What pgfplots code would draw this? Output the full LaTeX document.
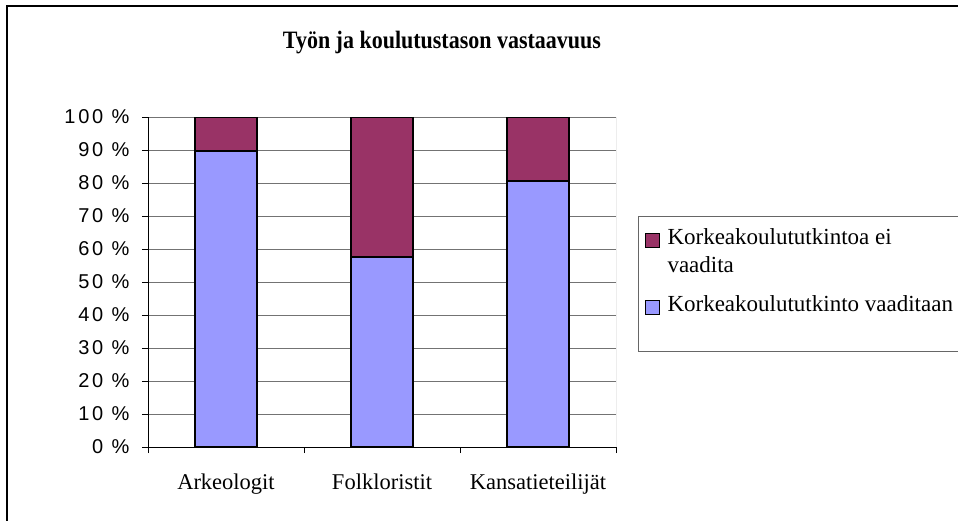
\documentclass[border=0pt]{standalone}
\usepackage{fontspec}
\setmainfont{Liberation Serif}
\newfontfamily\arial[LetterSpace=14]{Liberation Sans}
\usepackage{pgfplots}
\pgfplotsset{compat=1.18}
\definecolor{cRed}{HTML}{993366}
\definecolor{cBlue}{HTML}{9999FF}
\begin{document}
\begin{tikzpicture}
\useasboundingbox (0pt,0pt) rectangle (958pt,520pt);
\clip (0pt,0pt) rectangle (958pt,520pt);
\fill[white] (0pt,0pt) rectangle (958pt,520pt);
\draw[line width=2pt] (6.5pt,-10pt) -- (6.5pt,513.5pt) -- (980pt,513.5pt);
\node[font=\fontsize{25}{29}\selectfont\bfseries, xscale=0.88] at (442pt,477pt) {Työn ja koulutustason vastaavuus};
\begin{axis}[
  at={(148pt,73pt)}, anchor=south west,
  scale only axis, width=468pt, height=330pt,
  ybar stacked, bar width=62pt,
  xmin=-0.5, xmax=2.5, ymin=0, ymax=100,
  axis lines*=left,
  axis line style={black, line width=1pt},
  tick align=outside,
  major tick length=6pt,
  tick style={black, line width=0.8pt},
  ytick={0,10,...,100},
  yticklabels={0 \%,10 \%,20 \%,30 \%,40 \%,50 \%,60 \%,70 \%,80 \%,90 \%,100 \%},
  yticklabel style={font=\arial\fontsize{20}{23}\selectfont, xshift=-9pt},
  ymajorgrids,
  grid style={black!55, line width=1pt},
  xtick={-0.5,0.5,1.5,2.5},
  xticklabels={},
  extra x ticks={0,1,2},
  extra x tick labels={Arkeologit,Folkloristit,Kansatieteilijät},
  extra x tick style={major tick length=0pt, grid=none,
     tick label style={font=\fontsize{22.5}{26}\selectfont, yshift=-23pt}},
  reverse legend,
  legend style={at={(rel axis cs:1.047,0.7)}, anchor=north west,
     draw=black!60, line width=1pt, font=\fontsize{23}{28}\selectfont,
     nodes={inner sep=2pt, text depth=},
     cells={anchor=base west}, row sep=19pt, column sep=6pt,
     inner xsep=6pt, inner ysep=10pt},
  legend image code/.code={\draw[#1, draw=black, line width=1pt] (0pt,-3pt) rectangle (14pt,11pt);},
]
\addplot[fill=cBlue, draw=black, line width=1.2pt] coordinates {(0,89.7) (1,57.6) (2,80.6)};
\addlegendentry{\makebox[300pt][l]{Korkeakoulututkinto vaaditaan}\rule[-28pt]{0pt}{1pt}}
\addplot[fill=cRed, draw=black, line width=1.2pt] coordinates {(0,10.3) (1,42.4) (2,19.4)};
\addlegendentry{\vtop{\baselineskip=28pt\hbox{Korkeakoulututkintoa ei}\hbox{vaadita}}}
\draw[black!55, line width=1pt] (rel axis cs:1,0) -- (rel axis cs:1,1);
\end{axis}
\end{tikzpicture}
\end{document}
